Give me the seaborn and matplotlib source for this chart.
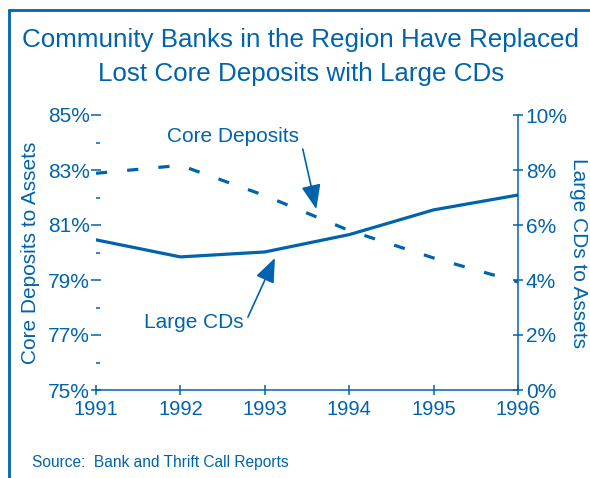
import pandas as pd
import matplotlib
matplotlib.use("Agg")
import matplotlib.pyplot as plt
from matplotlib.lines import Line2D
from matplotlib.ticker import FixedLocator, MultipleLocator, FuncFormatter
import seaborn as sns

# === DATA ===
years = [1991, 1992, 1993, 1994, 1995, 1996]
core_deposits = [82.88, 83.17, 82.07, 80.80, 79.80, 78.93]   # % of assets, left axis
large_cds = [5.46, 4.84, 5.02, 5.65, 6.55, 7.09]             # % of assets, right axis
left_ticks = [75, 77, 79, 81, 83, 85]
left_minor = [76, 78, 80, 82, 84]
right_ticks = [0, 2, 4, 6, 8, 10]

df = pd.DataFrame({"Year": years, "Core": core_deposits, "CDs": large_cds})

BLUE = "#0063AC"

# === STYLE ===
sns.set_style("white")
plt.rcParams["font.family"] = ["Liberation Sans", "DejaVu Sans"]
plt.rcParams["text.color"] = BLUE
plt.rcParams["axes.labelcolor"] = BLUE

fig = plt.figure(figsize=(5.9, 4.78), dpi=100)
ax = fig.add_axes([96 / 590, 1 - 390 / 478, 422 / 590, 275 / 478])
ax2 = ax.twinx()

# === LINES ===
sns.lineplot(data=df, x="Year", y="Core", ax=ax, color=BLUE, linewidth=2.3)
ax.lines[0].set_linestyle((0, (3.5, 6.3)))
sns.lineplot(data=df, x="Year", y="CDs", ax=ax2, color=BLUE, linewidth=2.3)

# === AXES ===
ax.set_xlim(1991, 1996)
ax.set_ylim(75, 85)
ax2.set_ylim(0, 10)

for a in (ax, ax2):
    for s in a.spines.values():
        s.set_visible(False)
ax.spines["bottom"].set_visible(True)
ax.spines["bottom"].set_color(BLUE)
ax.spines["bottom"].set_linewidth(1.1)
ax2.spines["right"].set_visible(True)
ax2.spines["right"].set_color(BLUE)
ax2.spines["right"].set_linewidth(1.1)

pct = FuncFormatter(lambda v, p: f"{v:.0f}%")
ax.yaxis.set_major_locator(FixedLocator(left_ticks))
ax.yaxis.set_minor_locator(FixedLocator(left_minor))
ax.yaxis.set_major_formatter(pct)
ax2.yaxis.set_major_locator(FixedLocator(right_ticks))
ax2.yaxis.set_major_formatter(pct)
ax.xaxis.set_major_locator(MultipleLocator(1))
ax.xaxis.set_major_formatter(FuncFormatter(lambda v, p: f"{v:.0f}"))

ax.tick_params(axis="y", which="major", direction="inout", length=7, width=1.1,
               color=BLUE, labelcolor=BLUE, labelsize=15, pad=1, left=True)
ax.tick_params(axis="y", which="minor", direction="in", length=3, width=1.1,
               color=BLUE, left=True)
ax.tick_params(axis="x", direction="inout", length=7, width=1.1,
               color=BLUE, labelcolor=BLUE, labelsize=14.5, pad=4, bottom=True)
ax2.tick_params(axis="y", direction="inout", length=7, width=1.1,
                color=BLUE, labelcolor=BLUE, labelsize=15, pad=2, right=True)

ax.set_xlabel("")
ax.set_ylabel("Core Deposits to Assets", fontsize=15, labelpad=6)
ax2.set_ylabel("Large CDs to Assets", fontsize=15, rotation=270, labelpad=15)
ax.grid(False)
ax2.grid(False)

# === ANNOTATIONS ===
ax.text(1992.62, 84.2, "Core Deposits", fontsize=15, color=BLUE, ha="center", va="center")
ax.text(1992.16, 77.44, "Large CDs", fontsize=15, color=BLUE, ha="center", va="center")
arrow = dict(arrowstyle="-|>,head_length=0.75,head_width=0.3", color=BLUE, lw=1.2,
             shrinkA=0, shrinkB=0, mutation_scale=20)
ax.annotate("", xy=(1993.61, 81.58), xytext=(1993.45, 83.76), arrowprops=arrow)
ax.annotate("", xy=(1993.12, 79.8), xytext=(1992.80, 77.65), arrowprops=arrow)

# === TITLE, SOURCE, FRAME ===
fig.text(0.51, 1 - 40 / 478, "Community Banks in the Region Have Replaced",
         fontsize=18.7, color=BLUE, ha="center", va="center")
fig.text(0.51, 1 - 74 / 478, "Lost Core Deposits with Large CDs",
         fontsize=18.7, color=BLUE, ha="center", va="center")
fig.text(32 / 590, 1 - 463 / 478, "Source:  Bank and Thrift Call Reports",
         fontsize=11.2, color=BLUE, ha="left", va="center")

fig.add_artist(Line2D([9 / 590, 1], [1 - 10 / 478, 1 - 10 / 478],
                      transform=fig.transFigure, color=BLUE, lw=2))
fig.add_artist(Line2D([9 / 590, 9 / 590], [1 - 10 / 478, 0],
                      transform=fig.transFigure, color=BLUE, lw=2))

fig.savefig("out.png", dpi=100)
